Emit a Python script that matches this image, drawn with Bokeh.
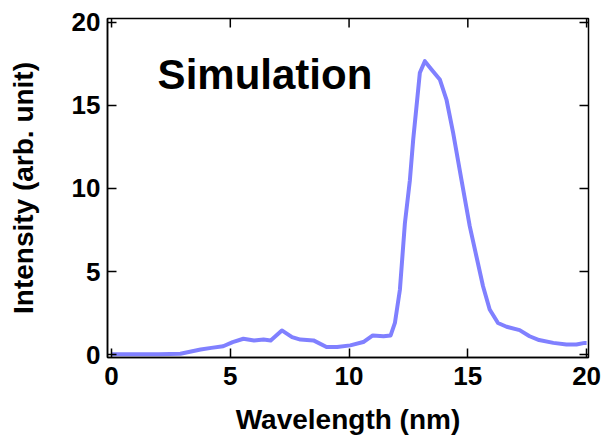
from bokeh.plotting import figure
from bokeh.models import FixedTicker, Range1d, Label
from bokeh.embed import file_html
from bokeh.resources import INLINE

# Data
wavelength = [0, 1, 2, 2.9, 3.4, 3.75, 4.2, 4.7, 5.1, 5.55, 6.0, 6.4, 6.7, 7.17, 7.6,
              7.95, 8.5, 9.05, 9.5, 10.05, 10.6, 11.0, 11.45, 11.75, 11.93, 12.14,
              12.35, 12.56, 12.7, 12.84, 12.98, 13.19, 13.47, 13.82, 14.1, 14.38,
              14.73, 15.08, 15.36, 15.64, 15.92, 16.27, 16.63, 17.18, 17.6, 18.0,
              18.6, 19.15, 19.57, 19.92, 20.0]
intensity = [0.02, 0.02, 0.02, 0.05, 0.2, 0.3, 0.4, 0.5, 0.75, 0.95, 0.85, 0.9, 0.85,
             1.45, 1.05, 0.9, 0.85, 0.45, 0.45, 0.55, 0.75, 1.15, 1.1, 1.15, 1.9, 3.9,
             7.9, 10.5, 12.95, 14.95, 16.97, 17.67, 17.17, 16.57, 15.36, 13.36, 10.54,
             7.73, 5.92, 4.11, 2.71, 1.9, 1.67, 1.47, 1.1, 0.87, 0.7, 0.6, 0.6, 0.7, 0.7]
x_ticks = [0, 5, 10, 15, 20]
y_ticks = [0, 5, 10, 15, 20]
title_text = "Simulation"
x_label = "Wavelength (nm)"
y_label = "Intensity (arb. unit)"

FONT = "Liberation Sans"
TICK_LEN = 9

p = figure(width=603, height=441, output_backend="svg", toolbar_location=None,
           x_range=Range1d(-0.17, 20.08), y_range=Range1d(-0.18, 20.24),
           min_border_left=107, min_border_right=15, min_border_top=18,
           min_border_bottom=84)
p.xgrid.visible = False
p.ygrid.visible = False
p.outline_line_color = "black"
p.outline_line_width = 1.5
p.background_fill_color = "white"
p.border_fill_color = "white"

p.line(wavelength, intensity, line_color="#8080ff", line_width=4, line_join="round")

for ax, ticks in ((p.xaxis[0], x_ticks), (p.yaxis[0], y_ticks)):
    ax.ticker = FixedTicker(ticks=ticks)
    ax.major_tick_in = TICK_LEN
    ax.major_tick_out = 0
    ax.minor_tick_in = 0
    ax.minor_tick_out = 0
    ax.axis_line_color = "black"
    ax.axis_line_width = 1.5
    ax.major_tick_line_color = "black"
    ax.major_tick_line_width = 1.5
    ax.major_label_text_font = FONT
    ax.major_label_text_font_style = "bold"
    ax.major_label_text_color = "black"
    ax.major_label_text_font_size = "26px"
    ax.axis_label_text_font = FONT
    ax.axis_label_text_font_style = "bold"
    ax.axis_label_text_font_size = "28px"
    ax.axis_label_text_color = "black"

p.xaxis[0].axis_label = x_label
p.yaxis[0].axis_label = y_label
p.xaxis[0].major_label_standoff = 9
p.yaxis[0].major_label_standoff = 7
p.xaxis[0].axis_label_standoff = 16
p.yaxis[0].axis_label_standoff = 30

# inward ticks on the top and right edges (markers clipped by the frame)
p.scatter(x=x_ticks, y=[p.y_range.end] * len(x_ticks), marker="dash",
          size=2 * TICK_LEN, angle=1.5708, line_color="black", line_width=1.5)
p.scatter(x=[p.x_range.end] * len(y_ticks), y=y_ticks, marker="dash",
          size=2 * TICK_LEN, line_color="black", line_width=1.5)

p.add_layout(Label(x=1.94, y=16.84, text=title_text, text_font=FONT,
                   text_font_style="bold", text_font_size="42px",
                   text_color="black", text_baseline="alphabetic"))

open("out.html", "w").write(file_html(p, INLINE))
